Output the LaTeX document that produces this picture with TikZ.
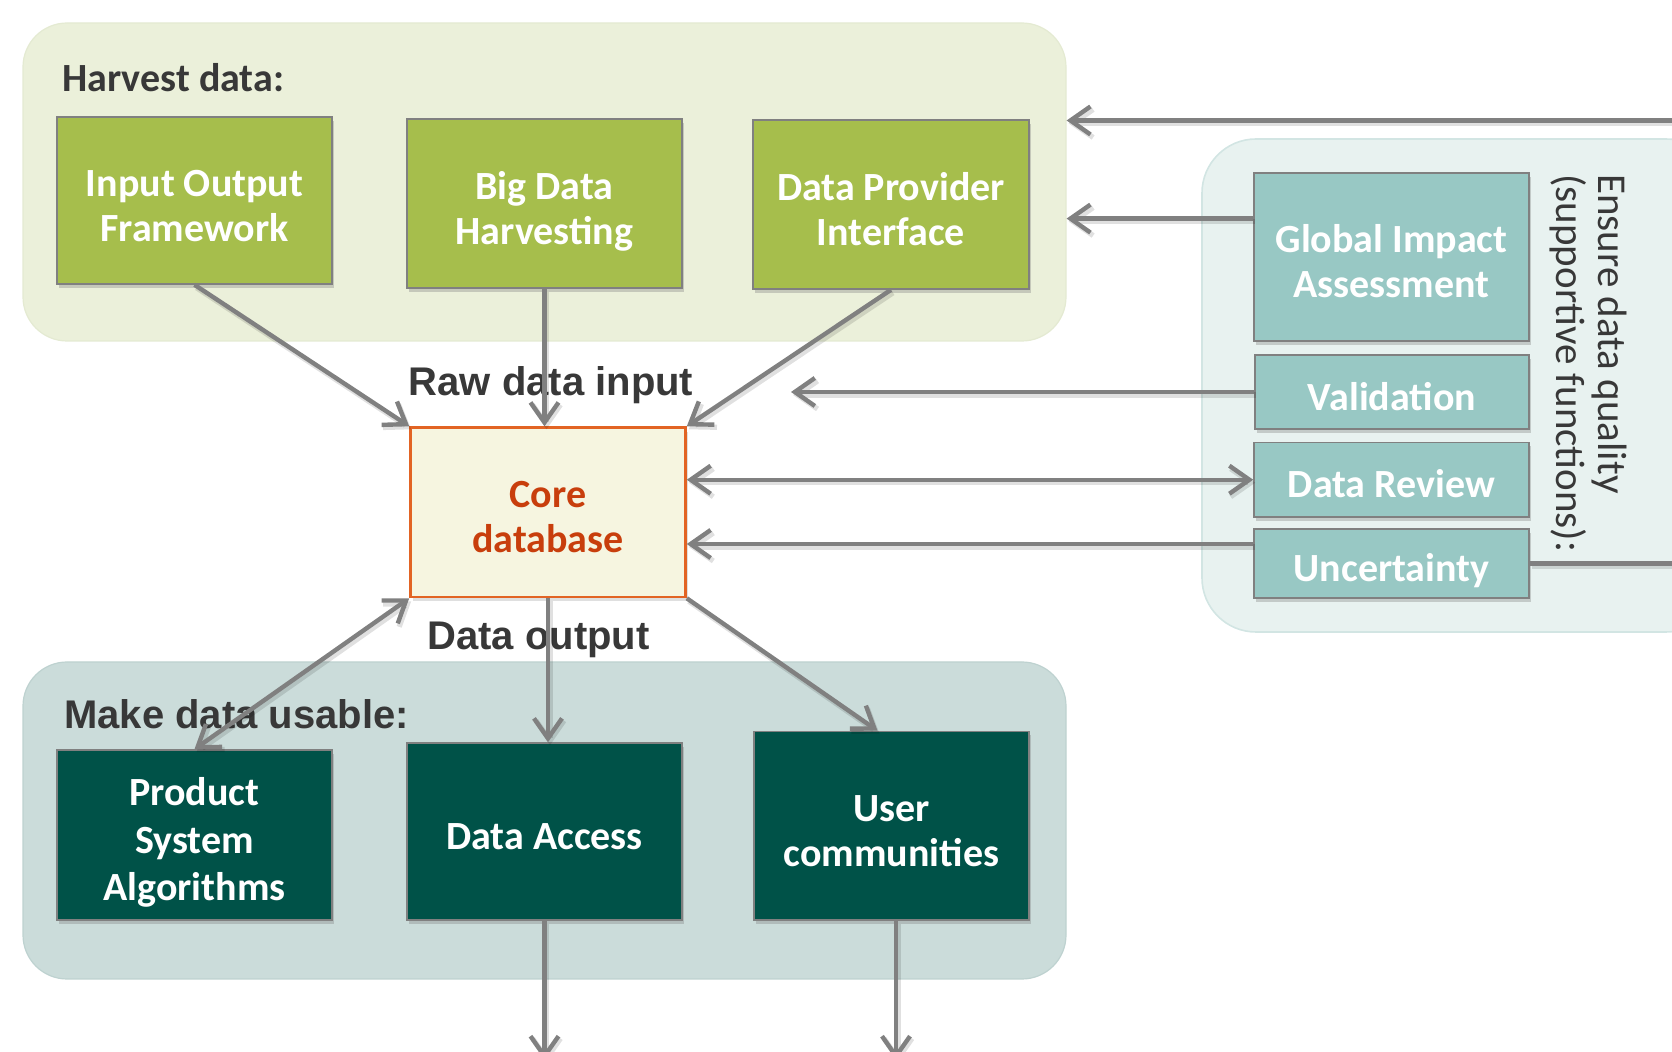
\documentclass[tikz,border=0pt]{standalone}
\usepackage{fontspec}
\setmainfont{Carlito}
\newfontfamily\arialf{Liberation Sans}
\usetikzlibrary{arrows.meta,shadows,calc}

\definecolor{hbg}{RGB}{235,240,218}
\definecolor{hbd}{RGB}{228,234,210}
\definecolor{mbg}{RGB}{203,220,218}
\definecolor{mbd}{RGB}{190,210,208}
\definecolor{rbg}{RGB}{232,242,240}
\definecolor{rbd}{RGB}{210,229,227}
\definecolor{gbox}{RGB}{166,190,76}
\definecolor{dbox}{RGB}{0,82,72}
\definecolor{tbox}{RGB}{152,200,196}
\definecolor{cfill}{RGB}{246,245,224}
\definecolor{cdraw}{RGB}{226,100,36}
\definecolor{ctext}{RGB}{200,62,12}
\definecolor{agray}{RGB}{128,128,128}
\definecolor{lbl}{RGB}{56,56,56}
\definecolor{bdr}{RGB}{128,128,128}

\newcommand{\topstrut}{\rule[-4.3pt]{0pt}{26.8pt}}
\newcommand{\botstrut}{\rule[-4.3pt]{0pt}{4.3pt}}
\newcommand{\bt}[1]{\topstrut#1\botstrut}

\begin{document}
\begin{tikzpicture}[x=0.5pt,y=-0.5pt,
  >={Straight Barb[length=10pt,width=14pt]},
  bg/.style={rectangle, rounded corners=22pt, inner sep=0pt},
  box/.style={rectangle, draw=bdr, line width=0.8pt, inner sep=0pt, text=white,
    align=center, font=\bfseries\fontsize{20}{22.5}\selectfont,
    drop shadow={shadow xshift=1.2pt, shadow yshift=-2pt, opacity=0.35}},
  gbx/.style={box, fill=gbox},
  dbx/.style={box, fill=dbox},
  tbx/.style={box, fill=tbox},
  corebox/.style={rectangle, draw=cdraw, line width=1.3pt, fill=cfill, inner sep=0pt,
    text=ctext, align=center, font=\bfseries\fontsize{20}{22.5}\selectfont,
    drop shadow={shadow xshift=1.2pt, shadow yshift=-2pt, opacity=0.25}},
  sect/.style={text=lbl, font=\arialf\bfseries\fontsize{20}{24}\selectfont, inner sep=0pt},
  vlabel/.style={text=lbl, font=\fontsize{20.5}{24}\selectfont, inner sep=0pt, rotate=-90, anchor=base west},
  arr/.style={draw=agray, line width=2.2pt,
    preaction={draw=black, opacity=0.12, line width=2.6pt, transform canvas={xshift=1pt,yshift=-1.5pt}}}
]
\useasboundingbox (0,0) rectangle (1672,1052);
\clip (0,0) rectangle (1672,1052);

% backgrounds
\node[bg, fill=hbg, draw=hbd, line width=0.6pt, minimum width=521.5pt, minimum height=159pt] (harvest) at (544.5,182) {};
\node[bg, fill=mbg, draw=mbd, line width=0.6pt, minimum width=521.5pt, minimum height=158.5pt] (usable) at (544.5,820.5) {};
\node[bg, rounded corners=27pt, fill=rbg, draw=rbd, line width=0.8pt, minimum width=259pt, minimum height=246.5pt] (quality) at (1461,385.5) {};

% section labels
\node[text=lbl, font=\bfseries\fontsize{20}{24}\selectfont, inner sep=0pt, anchor=west] (hlabel) at (62,78) {Harvest data:};
\node[sect, anchor=west] (mlabel) at (64,714) {Make data usable:};
\node[sect] (rawlabel) at (551,385.5) {Raw data input};
\node[sect] (outlabel) at (538.5,640) {Data output};
\node[vlabel] (q1) at (1598,174) {Ensure data quality};
\node[vlabel] (q2) at (1556,174) {(supportive functions):};

% harvest boxes
\node[gbx, minimum width=137.5pt, minimum height=83.5pt] (iof) at (194.5,200.5) {\bt{Input Output\\Framework}};
\node[gbx, minimum width=137.5pt, minimum height=84.5pt] (bdh) at (544.5,203.5) {\bt{Big Data\\Harvesting}};
\node[gbx, minimum width=138pt, minimum height=84.5pt] (dpi) at (891,204.5) {\bt{Data Provider\\Interface}};

% core
\node[corebox, minimum width=137.5pt, minimum height=84.7pt] (core) at (548,512.3) {\bt{Core\\database}};

% usable boxes
\node[dbx, minimum width=137.5pt, minimum height=85pt, font=\bfseries\fontsize{20}{23.8}\selectfont] (psa) at (194.5,835) {\bt{Product\\System\\Algorithms}};
\node[dbx, minimum width=137.5pt, minimum height=88.5pt] (da) at (544.5,831.5) {\bt{Data Access}};
\node[dbx, minimum width=137.5pt, minimum height=94.25pt] (uc) at (891.5,825.75) {\bt{User\\communities}};

% quality boxes
\node[tbx, minimum width=137.5pt, minimum height=84pt] (gia) at (1391.5,257) {\bt{Global Impact\\Assessment}};
\node[tbx, minimum width=137pt, minimum height=37pt] (val) at (1392,392) {\bt{Validation}};
\node[tbx, minimum width=137.5pt, minimum height=37.25pt] (dr) at (1391.5,479.75) {\bt{Data Review}};
\node[tbx, minimum width=137.5pt, minimum height=34.5pt] (unc) at (1391.5,563.5) {\bt{Uncertainty}};

% helper coordinates
\coordinate (loopc) at (1720,120.5);
\coordinate (giay) at (0,218.6);
\coordinate (valend) at (791,392);
\coordinate (uncy) at (0,544);
\coordinate (daend) at (544.5,1060);
\coordinate (ucend) at (896,1060);

% connectors
\draw[arr,->] (unc.east) -| (loopc) -- (loopc -| harvest.east);
\draw[arr,->] (gia.west |- giay) -- (harvest.east |- giay);
\draw[arr,->] (val.west) -- (valend);
\draw[arr,<->] (core.east |- dr.west) -- (dr.west);
\draw[arr,->] (unc.west |- uncy) -- (core.east |- uncy);

\draw[arr,->] (iof.south) -- (core.north west);
\draw[arr,->] (bdh.south) -- (bdh.south |- core.north);
\draw[arr,->] (dpi.south) -- (core.north east);

\draw[arr,<->] (core.south west) -- (psa.north);
\draw[arr,->] (core.south) -- (core.south |- da.north);
\draw[arr,->] (core.south east) -- ($(uc.north)+(-14,0)$);

\draw[arr,->] (da.south) -- (daend);
\draw[arr,->] (uc.south -| ucend) -- (ucend);
\end{tikzpicture}
\end{document}
